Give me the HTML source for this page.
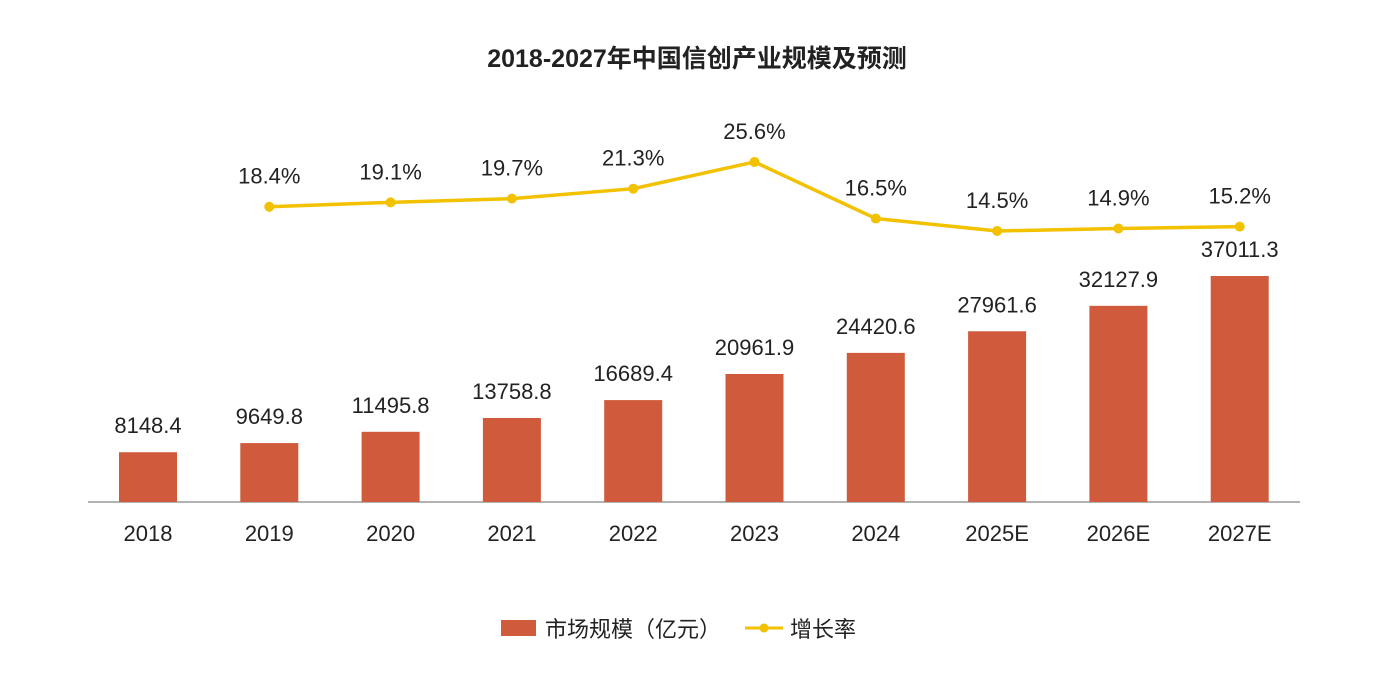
<!DOCTYPE html>
<html><head><meta charset="utf-8"><style>
html,body{margin:0;padding:0;background:#fff;}
svg{display:block;font-family:"Liberation Sans","Noto Sans CJK SC",sans-serif;}
</style></head><body>
<svg id="chart" width="1394" height="685" viewBox="0 0 1394 685">
<text x="697" y="67" text-anchor="middle" font-size="25" font-weight="bold" fill="#222">2018-2027年中国信创产业规模及预测</text>
<line x1="88" y1="502" x2="1300" y2="502" stroke="#999" stroke-width="1.5"/>
<g id="bars"></g><g id="line"></g><g id="labels"></g>
<g>
<rect x="501" y="620" width="35" height="16" fill="#D05A3C"/>
<text x="545" y="637" font-size="22" fill="#222">市场规模（亿元）</text>
<line x1="745" y1="628" x2="783" y2="628" stroke="#F2C100" stroke-width="3"/>
<circle cx="764" cy="628" r="4.5" fill="#F2C100"/>
<text x="790" y="637" font-size="22" fill="#222">增长率</text>
</g>
</svg>
<script>
const categories=["2018","2019","2020","2021","2022","2023","2024","2025E","2026E","2027E"];
const marketSize=[8148.4,9649.8,11495.8,13758.8,16689.4,20961.9,24420.6,27961.6,32127.9,37011.3];
const growthRate=[null,18.4,19.1,19.7,21.3,25.6,16.5,14.5,14.9,15.2];
const NS="http://www.w3.org/2000/svg";
const x=i=>148+i*121.3;
const yBar=v=>502-v*0.006106;
const yLine=v=>321.1-6.216*v;
function mk(tag,attrs,parent,txt){const e=document.createElementNS(NS,tag);for(const k in attrs)e.setAttribute(k,attrs[k]);if(txt!=null)e.textContent=txt;parent.appendChild(e);return e;}
const gb=document.getElementById('bars'),gl=document.getElementById('line'),gt=document.getElementById('labels');
categories.forEach((c,i)=>{
 const top=yBar(marketSize[i]);
 const r=mk('rect',{x:x(i)-29,y:top,width:58,height:502-top,fill:'#D05A3C'},gb);
 
 
 const t=mk('text',{x:x(i),y:top-19,'text-anchor':'middle','font-size':'22',fill:'#222'},gt,marketSize[i].toFixed(1));
 
 
 const xl=mk('text',{x:x(i),y:541,'text-anchor':'middle','font-size':'22',fill:'#222'},gt,c);
 
 
});
let pts=[];
growthRate.forEach((v,i)=>{if(v!=null)pts.push([x(i),yLine(v),v,categories[i]]);});
const pl=mk('polyline',{points:pts.map(p=>p[0]+','+p[1]).join(' '),fill:'none',stroke:'#F2C100','stroke-width':3.5},gl);


pts.forEach(p=>{
 const c=mk('circle',{cx:p[0],cy:p[1],r:5,fill:'#F2C100'},gl);
 
 
 const t=mk('text',{x:p[0],y:p[1]-23,'text-anchor':'middle','font-size':'22',fill:'#222'},gt,p[2].toFixed(1)+'%');
 
 
});
</script>
</body></html>
